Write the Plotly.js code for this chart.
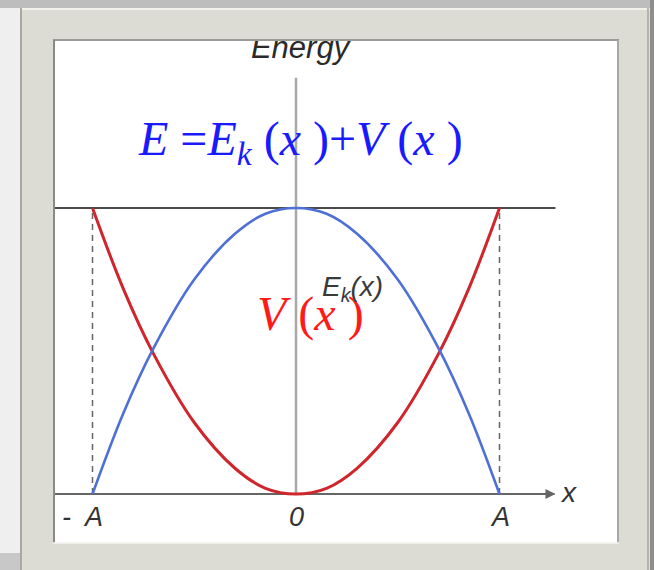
<!DOCTYPE html>
<html>
<head>
<meta charset="utf-8">
<script src="https://cdn.plot.ly/plotly-3.0.1.min.js"></script>
<style>html,body{margin:0;padding:0;background:#fff;}#chart{width:654px;height:570px;}</style>
</head>
<body>
<div id="chart"></div>
<script>
// Positions along x in units of the amplitude A (−A … A)
const xPos = [-1, -0.85, -0.7, -0.5, -0.3, -0.15, 0, 0.15, 0.3, 0.5, 0.7, 0.85, 1];
// Potential energy V(x) (units of total energy E)
const potential = [1, 0.72, 0.49, 0.25, 0.09, 0.02, 0, 0.02, 0.09, 0.25, 0.49, 0.72, 1];
// Kinetic energy Ek(x)
const kinetic = [0, 0.28, 0.51, 0.75, 0.91, 0.98, 1, 0.98, 0.91, 0.75, 0.51, 0.28, 0];
// Total energy level
const totalEnergy = 1;
// Tick labels on the x axis
const tickVals = [-1, 0, 1];
const tickText = ['-  A', '0', 'A'];

const W = 654, H = 570;
const PX = x => x / W;
const PY = y => 1 - y / H;

function rectPx(x0, y0, x1, y1, color, layer) {
  return {type: 'rect', xref: 'paper', yref: 'paper', x0: PX(x0), x1: PX(x1), y0: PY(y1), y1: PY(y0),
    fillcolor: color, line: {width: 0}, layer: layer || 'above'};
}
function linePx(x0, y0, x1, y1, color, w, layer) {
  return {type: 'line', xref: 'paper', yref: 'paper', x0: PX(x0), x1: PX(x1), y0: PY(y0), y1: PY(y1),
    line: {color: color, width: w}, layer: layer || 'above'};
}

const red = 'rgb(206,38,44)';
const blue = 'rgb(78,112,214)';
const axisCol = '#4a4a4a';

const traces = [
  {x: xPos, y: potential, type: 'scatter', mode: 'lines', line: {color: red, width: 3, shape: 'spline'}, hoverinfo: 'skip'},
  {x: xPos, y: kinetic, type: 'scatter', mode: 'lines', line: {color: blue, width: 2.6, shape: 'spline'}, hoverinfo: 'skip'},
  {x: [0.02], y: [1.55], type: 'scatter', mode: 'text', text: ['<i>Energy</i>'],
   textfont: {family: 'Liberation Sans, Arial, sans-serif', size: 31, color: '#2a2a2a'}, textposition: 'middle center', hoverinfo: 'skip'}
];

const frameBeige = '#dddcd4';
const shapes = [
  // axes
  {type: 'line', xref: 'x', yref: 'y', x0: 0, x1: 0, y0: 0, y1: 1.455, line: {color: '#a8a8a8', width: 2.5}, layer: 'below'},
  {type: 'line', xref: 'x', yref: 'y', x0: -1.2, x1: 1.27, y0: 0, y1: 0, line: {color: '#666', width: 2}, layer: 'below'},
  {type: 'line', xref: 'x', yref: 'y', x0: -1.2, x1: 1.275, y0: totalEnergy, y1: totalEnergy, line: {color: axisCol, width: 2}, layer: 'below'},
  {type: 'line', xref: 'x', yref: 'y', x0: -1, x1: -1, y0: 0, y1: totalEnergy, line: {color: '#666', width: 1.5, dash: '6px,5px'}, layer: 'below'},
  {type: 'line', xref: 'x', yref: 'y', x0: 1, x1: 1, y0: 0, y1: totalEnergy, line: {color: '#666', width: 1.5, dash: '6px,5px'}, layer: 'below'},
  // outer backgrounds
  rectPx(0, 0, 654, 8, '#bdbdbd'),
  rectPx(0, 8, 20, 553, '#efefef'),
  rectPx(0, 553, 20, 570, '#c8c8c8'),
  rectPx(650, 0, 654, 570, '#8e8e8e'),
  // frame bands
  rectPx(20, 8, 650, 40, frameBeige),
  rectPx(20, 543, 650, 570, frameBeige),
  rectPx(20, 40, 53, 543, frameBeige),
  rectPx(619, 40, 650, 543, frameBeige),
  // bevel lines
  linePx(20, 9, 650, 9, '#f2f1ec', 2),
  linePx(21, 8, 21, 570, '#a9a9a4', 2),
  linePx(648, 8, 648, 570, '#b5b4ae', 2),
  linePx(53, 40, 619, 40, '#9a9a96', 2),
  linePx(54, 40, 54, 543, '#8a8a86', 2),
  linePx(618, 40, 618, 543, '#a9a9a4', 2),
  linePx(53, 543, 619, 543, '#f4f4f0', 1.5)
];

const annotations = [
  {x: 1.275, y: 0, xref: 'x', yref: 'y', ax: -16, ay: 0, text: '', showarrow: true, arrowhead: 2, arrowsize: 1, arrowwidth: 2, arrowcolor: '#666'},
  {x: 1.34, y: 0, xref: 'x', yref: 'y', text: '<i>x</i>', showarrow: false,
   font: {family: 'Liberation Sans, Arial, sans-serif', size: 28, color: '#333'}, xanchor: 'center', yanchor: 'middle', yshift: 2},
  {x: 0.02, y: 1.23, xref: 'x', yref: 'y', showarrow: false,
   text: '<i>E</i> =<i>E</i><sub><i>k</i></sub> (<i>x</i> )+<i>V</i> (<i>x</i> )',
   font: {family: 'Liberation Serif, Times New Roman, serif', size: 48, color: '#1a1aff'}, xanchor: 'center', yanchor: 'middle'},
  {x: 0.07, y: 0.63, xref: 'x', yref: 'y', showarrow: false,
   text: '<i>V</i> (<i>x</i> )',
   font: {family: 'Liberation Serif, Times New Roman, serif', size: 48, color: '#ff1a1a'}, xanchor: 'center', yanchor: 'middle'},
  {x: 0.28, y: 0.717, xref: 'x', yref: 'y', showarrow: false,
   text: '<i>E<sub>k</sub>(x)</i>',
   font: {family: 'Liberation Sans, Arial, sans-serif', size: 28, color: '#3a3a3a'}, xanchor: 'center', yanchor: 'middle'}
];
tickVals.forEach((v, i) => {
  annotations.push({x: v, y: 0, xref: 'x', yref: 'y', yshift: -23, xshift: i === 0 ? -10 : 0, showarrow: false,
    text: '<i>' + tickText[i] + '</i>', font: {family: 'Liberation Sans, Arial, sans-serif', size: 27, color: '#333'},
    xanchor: 'center', yanchor: 'middle'});
});

const layout = {
  width: W, height: H,
  margin: {l: 0, r: 0, t: 0, b: 0, pad: 0},
  paper_bgcolor: '#ffffff', plot_bgcolor: '#ffffff',
  showlegend: false,
  xaxis: {range: [-296 / 203.5, (W - 296) / 203.5], visible: false, fixedrange: true},
  yaxis: {range: [-(H - 494) / 286, 494 / 286], visible: false, fixedrange: true},
  shapes: shapes,
  annotations: annotations
};

Plotly.newPlot('chart', traces, layout, {staticPlot: true, displayModeBar: false});
</script>
</body>
</html>
